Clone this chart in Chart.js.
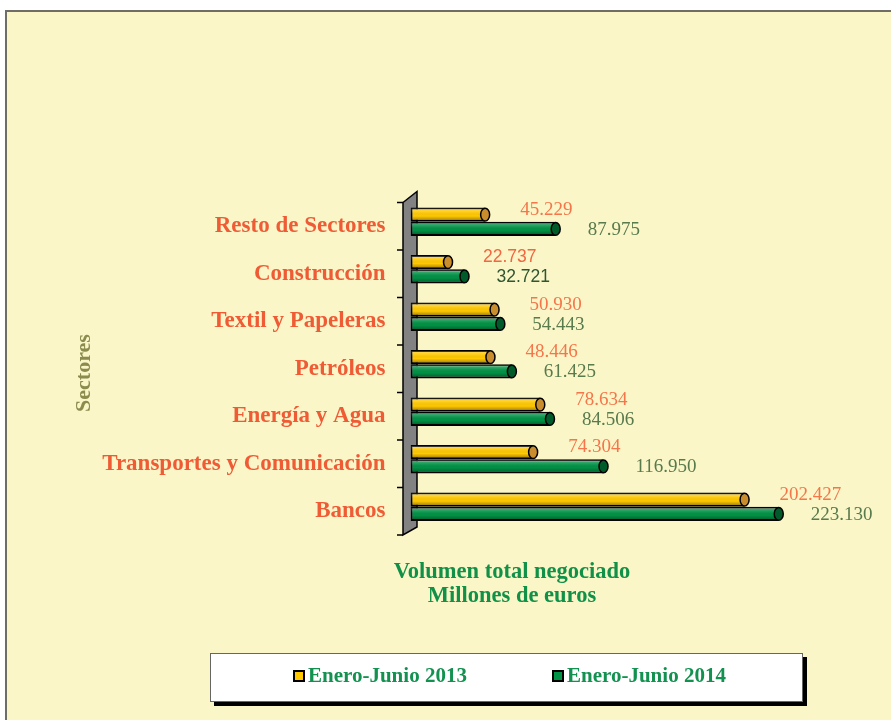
<!DOCTYPE html>
<html><head><meta charset="utf-8">
<script src="https://cdn.jsdelivr.net/npm/chart.js@4"></script>
<style>html,body{margin:0;padding:0;background:#fff}#wrap{width:891px;height:720px}</style>
</head><body><div id="wrap"><canvas id="c" width="891" height="720"></canvas></div>
<script>
const categories = ['Resto de Sectores','Construcción','Textil y Papeleras','Petróleos','Energía y Agua','Transportes y Comunicación','Bancos'];
const series2013 = [45229,22737,50930,48446,78634,74304,202427];
const series2014 = [87975,32721,54443,61425,84506,116950,223130];
const seriesNames = ['Enero-Junio 2013','Enero-Junio 2014'];
const xTitleLines = ['Volumen total negociado','Millones de euros'];
const yTitle = 'Sectores';
const sansLabelCategories = ['Construcción'];

const SERIF = "'Liberation Serif','Times New Roman',serif";
const SANS = "'Liberation Sans',Arial,sans-serif";
const fillColors = ['#ffc800', '#009245'];
const capColors = ['#c98d2e', '#005a2a'];
const valueColors = ['#f4764a', '#587a4c'];
const valueColorsSans = ['#f26640', '#2f5630'];
const labelOffsets = [{dx:35, dy:-5}, {dx:32, dy:1}];
const LABEL_SHIFT = 4.5;

function fmt(v){ return v.toString().replace(/\B(?=(\d{3})+(?!\d))/g,'.'); }

const decor = {
  id:'decor',
  beforeDraw(chart){
    const c = chart.ctx;
    c.save();
    c.fillStyle='#ffffff'; c.fillRect(0,0,chart.width,chart.height);
    c.fillStyle='#faf6c8'; c.fillRect(5,10,chart.width-5,chart.height-10);
    c.strokeStyle='#6e6e66'; c.lineWidth=2;
    c.beginPath(); c.moveTo(5,11); c.lineTo(chart.width,11); c.moveTo(6,10); c.lineTo(6,chart.height); c.stroke();
    c.restore();
  },
  beforeDatasetsDraw(chart){
    const c = chart.ctx, a = chart.chartArea;
    const n = categories.length, band = (a.bottom-a.top)/n;
    const t0 = a.top + LABEL_SHIFT, t1 = a.bottom + LABEL_SHIFT;
    const x0 = a.left - 7.5, x1 = a.left + 6.5;
    c.save();
    c.fillStyle='#828282'; c.strokeStyle='#000'; c.lineWidth=1.5;
    c.beginPath(); c.moveTo(x0,t0); c.lineTo(x1,t0-11); c.lineTo(x1,t1-8); c.lineTo(x0,t1); c.closePath();
    c.fill(); c.stroke();
    c.beginPath();
    for(let i=0;i<=n;i++){ const y=t0+i*band; c.moveTo(x0-6,y); c.lineTo(x0,y); }
    c.stroke();
    c.restore();
  },
  afterDatasetsDraw(chart){
    const c = chart.ctx;
    c.save();
    chart.data.datasets.forEach((ds,di)=>{
      const meta = chart.getDatasetMeta(di);
      meta.data.forEach((el,i)=>{
        const h = el.height, top = el.y-h/2;
        const g = c.createLinearGradient(0,top,0,top+h);
        g.addColorStop(0,'rgba(255,255,255,0.35)');
        g.addColorStop(0.3,'rgba(255,255,255,0.12)');
        g.addColorStop(0.6,'rgba(0,0,0,0)');
        g.addColorStop(1,'rgba(0,0,0,0.45)');
        c.fillStyle=g;
        c.fillRect(el.base+1, top+1.2, el.x-el.base-1, h-2.4);
        c.beginPath(); c.ellipse(el.x, el.y, 4.5, h/2-0.8, 0, 0, Math.PI*2);
        c.fillStyle=capColors[di]; c.fill();
        c.strokeStyle='#000'; c.lineWidth=1.5; c.stroke();
        const sans = sansLabelCategories.includes(categories[i]);
        c.font = sans ? `17.5px ${SANS}` : `19px ${SERIF}`;
        c.fillStyle = sans ? valueColorsSans[di] : valueColors[di];
        c.textAlign='left'; c.textBaseline='middle';
        c.fillText(fmt(ds.data[i]), el.x+labelOffsets[di].dx, el.y+labelOffsets[di].dy);
      });
    });
    c.restore();
  },
  afterDraw(chart){
    const c = chart.ctx;
    c.save();
    c.translate(84, 373); c.rotate(-Math.PI/2);
    c.font = `bold 22px ${SERIF}`; c.fillStyle='#8b8b4e'; c.textAlign='center'; c.textBaseline='middle';
    c.fillText(yTitle,0,0);
    c.restore();
    c.save();
    c.font = `bold 22.5px ${SERIF}`; c.fillStyle='#119148'; c.textAlign='center'; c.textBaseline='alphabetic';
    c.fillText(xTitleLines[0], 512, 578);
    c.fillText(xTitleLines[1], 512, 602);
    c.fillStyle='#000'; c.fillRect(214,657,593,49);
    c.fillStyle='#fff'; c.fillRect(210,653,593,49);
    c.strokeStyle='#666'; c.lineWidth=1; c.strokeRect(210.5,653.5,592,48);
    const items = [{sx:294, tx:308},{sx:553, tx:567}];
    items.forEach((it,k)=>{
      c.fillStyle=fillColors[k]; c.fillRect(it.sx,671,10,10);
      c.strokeStyle='#000'; c.lineWidth=2; c.strokeRect(it.sx,671,10,10);
      c.font = `bold 21px ${SERIF}`; c.fillStyle='#129150'; c.textAlign='left'; c.textBaseline='middle';
      c.fillText(seriesNames[k], it.tx, 677);
    });
    c.restore();
  }
};

new Chart(document.getElementById('c'), {
  type:'bar',
  data:{
    labels: categories,
    datasets:[
      {label:seriesNames[0], data:series2013, backgroundColor:fillColors[0], borderColor:'#000', borderWidth:2, borderSkipped:false},
      {label:seriesNames[1], data:series2014, backgroundColor:fillColors[1], borderColor:'#000', borderWidth:2, borderSkipped:false}
    ]
  },
  options:{
    indexAxis:'y',
    responsive:false,
    animation:false,
    events:[],
    layout:{padding:{left:5, right:18.4, top:198, bottom:189.5}},
    datasets:{bar:{categoryPercentage:0.6, barPercentage:1.0}},
    plugins:{legend:{display:false}, tooltip:{enabled:false}},
    scales:{
      x:{display:false, min:0, max:280000},
      y:{
        afterFit(s){ s.width = 405.5; },
        grid:{display:false, drawTicks:false},
        border:{display:false},
        ticks:{padding:25, labelOffset:LABEL_SHIFT, color:'#ef5b35', font:{family:SERIF, size:23, weight:'bold'}}
      }
    }
  },
  plugins:[decor]
});
</script>
</body></html>
